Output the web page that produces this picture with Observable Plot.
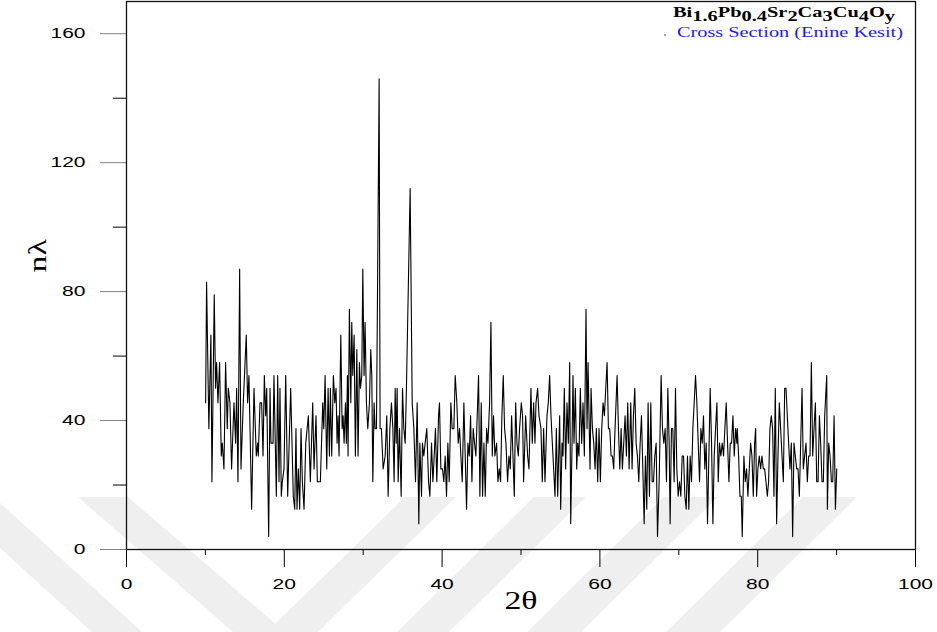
<!DOCTYPE html>
<html>
<head>
<meta charset="utf-8">
<script src="https://cdn.jsdelivr.net/npm/d3@7"></script>
<script src="https://cdn.jsdelivr.net/npm/@observablehq/plot@0.6"></script>
<style>
  html, body { margin: 0; padding: 0; background: #fff; }
  #wrap { position: relative; width: 937px; height: 632px; overflow: hidden; }
  #bg { position: absolute; left: 0; top: 0; }
  #chart { position: absolute; left: 0; top: 0; }
  #legend { position: absolute; left: 0; top: 0; font-family: "Liberation Serif", "Times New Roman", serif; font-size: 14px; white-space: nowrap; }
  #legend .row { position: absolute; transform-origin: 0 0; }
  #t1 { left: 673px; top: 5px; font-weight: bold; color: #000; }
  #t1 .s { display: inline-block; transform: translateY(4px); }
  #t2 { left: 677px; top: 25px; color: #1a1aff; }
  #dot { position: absolute; left: 664px; top: 34px; width: 2px; height: 2px; background: #aaa; }
</style>
</head>
<body>
<div id="wrap">
<svg id="bg" width="937" height="632">
  <g fill="#efefef">
    <polygon points="0,503 0,548 92,632 142,632"/>
    <polygon points="78,497 128,497 285,632 233,632"/>
    <polygon points="405,497 456,497 318,632 267,632"/>
    <polygon points="534,497 586,497 449,632 397,632"/>
    <polygon points="664,497 718,497 581,632 527,632"/>
    <polygon points="803,497 857,497 720,632 666,632"/>
  </g>
</svg>
<div id="chart"></div>
<div id="legend">
  <div class="row" id="t1">Bi<span class="s">1.6</span>Pb<span class="s">0.4</span>Sr<span class="s">2</span>Ca<span class="s">3</span>Cu<span class="s">4</span>O<span class="s">y</span></div>
  <div id="dot"></div>
  <div class="row" id="t2">Cross Section (Enine Kesit)</div>
</div>
</div>
<script>
// 2θ positions (degrees) and intensities
const twoTheta = [
 10.03,10.15,10.44,10.70,10.83,11.12,11.29,11.42,11.59,11.80,12.01,12.14,12.35,12.56,12.77,12.90,13.11,13.32,13.62,13.83,13.96,14.13,14.34,14.51,14.80,15.18,15.35,15.52,15.86,16.16,16.45,16.62,16.70,16.92,17.13,17.30,17.47,17.64,17.77,18.02,18.19,18.31,18.57,18.69,18.99,19.16,19.33,19.45,19.62,19.75,19.96,20.18,20.43,20.81,21.14,21.32,21.48,21.61,21.78,21.95,22.12,22.29,22.50,22.72,
 23.05,23.30,23.60,23.77,24.02,24.19,24.57,24.87,25.00,25.17,25.38,25.55,25.72,25.84,26.01,26.22,26.40,26.56,26.69,26.82,26.94,27.16,27.33,27.45,27.58,27.75,27.87,28.00,28.08,28.25,28.43,28.55,28.68,28.85,29.01,29.19,29.35,29.52,29.65,29.82,29.95,30.11,30.24,30.41,30.58,30.79,30.96,31.09,31.22,31.38,31.51,31.68,32.02,32.14,32.31,32.53,32.78,32.99,33.16,33.38,33.58,33.76,33.92,34.05,34.18,34.30,34.43,34.60,34.81,34.98,35.15,35.32,35.48,35.95,36.21,36.42,36.63,
 36.84,37.05,37.18,37.39,37.51,37.68,37.85,38.06,38.28,38.45,38.66,38.83,39.00,39.16,39.33,39.55,39.67,39.84,40.05,40.22,40.39,40.56,40.73,40.90,41.11,41.28,41.49,41.66,41.87,42.04,42.21,42.38,42.55,42.76,42.93,43.10,43.27,43.44,43.61,43.78,43.94,44.11,44.28,44.45,44.62,44.79,44.96,45.13,45.30,45.47,45.64,45.81,46.02,46.19,46.36,46.52,46.69,46.91,47.07,47.24,47.41,47.58,47.75,47.92,48.09,48.30,48.47,48.64,48.81,48.98,49.15,49.32,49.49,49.66,49.82,50.04,50.20,
 50.33,50.59,50.84,51.01,51.26,51.43,51.60,51.77,51.90,52.11,52.28,52.53,52.70,52.87,53.04,53.29,53.46,53.63,53.80,53.97,54.14,54.31,54.48,54.65,54.90,55.03,55.20,55.32,55.49,55.66,55.83,56.00,56.17,56.30,56.47,56.59,56.72,56.89,57.06,57.19,57.35,57.52,57.69,57.86,58.03,58.24,58.37,58.50,58.62,58.75,58.88,59.05,59.22,59.39,59.55,59.72,59.89,60.06,60.23,60.40,60.57,60.74,60.91,61.08,61.25,61.42,61.59,61.75,61.92,62.18,62.35,62.52,62.69,62.85,63.02,63.19,63.36,63.53,63.70,
 63.91,64.08,64.25,64.42,64.59,64.76,64.93,65.10,65.27,65.44,65.61,65.77,65.94,66.11,66.28,66.45,66.62,66.79,66.96,67.13,67.30,67.51,67.76,67.93,68.10,68.27,68.44,68.61,68.78,68.90,69.07,69.24,69.41,69.58,69.75,69.92,70.09,70.26,70.43,70.60,70.77,70.94,71.10,71.27,71.44,71.61,71.78,71.95,72.12,72.29,72.46,72.63,72.80,72.97,73.13,73.30,73.47,73.64,73.81,73.98,74.15,74.32,74.49,74.66,74.83,75.00,75.16,75.33,75.50,75.67,75.84,76.01,76.18,76.35,76.52,76.69,76.86,77.03,77.20,77.36,
 77.41,77.58,77.75,77.92,78.04,78.25,78.42,78.59,78.76,78.93,79.10,79.27,79.44,79.61,79.74,79.86,80.03,80.20,80.37,80.54,80.71,80.88,81.05,81.22,81.38,81.55,81.72,81.89,82.06,82.23,82.40,82.57,82.74,82.91,83.08,83.25,83.42,83.59,83.75,83.92,84.09,84.26,84.43,84.60,84.77,84.94,85.11,85.28,85.45,85.62,85.78,85.95,86.12,86.29,86.46,86.63,86.80,86.97,87.14,87.31,87.48,87.65,87.82,87.98,88.15,88.32,88.49,88.75,88.83,89.00,89.17,89.34,89.51,89.68,89.85,90.02
];
const intensity = [
 45.5,83,37.5,66.5,21,79,50,58,45.5,58,29,33,25,58,37.5,50,45.5,25,45.5,33,50,21,87,25,45.5,66.5,45.5,54,12.5,50,29,33,29,45.5,45.5,29,54,41.5,50,4,50,33,33,54,16.5,54,21,50,16.5,21,25,54,16.5,50,16.5,12.5,37.5,12.5,25,12.5,37.5,21,12.5,33,
 41.5,21,45.5,25,41.5,21,21,45.5,37.5,54,25,50,29,50,29,54,45.5,50,33,41.5,29,66.5,37.5,41.5,33,45.5,33,54,29,74.5,45.5,70.5,54,66.5,29,62,29,58,50,54,87,54,70.5,45.5,37.5,45.5,62,54,21,45.5,37.5,37.5,146,37.5,37.5,25,29,41.5,16.5,37.5,45.5,37.5,21,50,33,50,21,37.5,16.5,50,37.5,33,50,112,45.5,37.5,21,
 45.5,8,33,16.5,33,29,33,37.5,21,16.5,33,21,29,37.5,21,41.5,45.5,25,25,21,29,16.5,33,21,45.5,37.5,37.5,54,45.5,33,37.5,29,21,45.5,29,12.5,33,29,41.5,21,37.5,33,29,41.5,54,16.5,45.5,16.5,33,16.5,37.5,33,45.5,70.5,29,41.5,29,33,21,25,21,41.5,54,37.5,33,21,29,25,41.5,29,16.5,45.5,33,29,37.5,45.5,41.5,
 21,41.5,29,25,50,33,45.5,33,45.5,50,41.5,37.5,21,37.5,21,41.5,45.5,54,41.5,33,25,16.5,37.5,16.5,41.5,12.5,33,29,50,25,45.5,33,58,8,33,54,33,50,25,33,29,50,33,45.5,29,74.5,37.5,58,41.5,25,50,37.5,33,25,37.5,21,37.5,21,37.5,45.5,41.5,50,58,37.5,37.5,29,29,25,37.5,54,37.5,25,37.5,25,33,41.5,29,45.5,25,
 45.5,25,41.5,50,33,29,21,33,41.5,25,8,29,12.5,45.5,16.5,45.5,21,21,29,33,4,21,54,37.5,33,37.5,21,50,33,8,37.5,37.5,21,50,25,16.5,21,16.5,29,29,16.5,12.5,29,12.5,29,21,37.5,45.5,54,45.5,33,21,37.5,33,41.5,25,33,8,29,50,33,8,29,37.5,45.5,21,33,29,33,29,37.5,45.5,33,21,33,33,41.5,29,37.5,33,
 37.5,29,16.5,16.5,4,29,21,25,16.5,25,33,29,16.5,33,37.5,16.5,25,29,25,29,25,25,21,16.5,21,37.5,41.5,37.5,16.5,50,8,29,45.5,37.5,29,21,50,50,41.5,33,25,33,4,33,29,25,25,16.5,33,50,25,29,33,21,29,29,58,29,37.5,45.5,21,21,41.5,33,21,21,41.5,54,12.5,33,29,21,21,41.5,12.5,25
];
const xMajor = [0, 20, 40, 60, 80, 100];
const xMinor = [10, 30, 50, 70, 90];
const yMajor = [0, 40, 80, 120, 160];
const yMinor = [20, 60, 100, 140];

const data = twoTheta.map((t, i) => ({t, v: intensity[i]}));
const serif = "'Liberation Serif', 'Times New Roman', serif";

const chart = Plot.plot({
  width: 937,
  height: 632,
  marginLeft: 126,
  marginRight: 22,
  marginTop: 1,
  marginBottom: 83,
  x: {domain: [0, 100]},
  y: {domain: [0, 170]},
  style: {fontFamily: "'Liberation Sans', Arial, sans-serif", fontSize: "14px", color: "#000", background: "transparent"},
  marks: [
    Plot.axisY({ticks: yMajor, tickSize: 26, tickPadding: 15, label: null, stroke: "#808080", fill: "#000"}),
    Plot.axisY({ticks: yMinor, tickSize: 13, tickFormat: () => "", label: null, stroke: "#000"}),
    Plot.axisX({ticks: xMajor, tickSize: 18, tickPadding: 12, label: null, stroke: "#000"}),
    Plot.axisX({ticks: xMinor, tickSize: 6, tickFormat: () => "", label: null, stroke: "#000"}),
    Plot.frame({stroke: "#111", strokeWidth: 1.3}),
    Plot.line(data, {x: "t", y: "v", stroke: "#000", strokeWidth: 1.1}),
    Plot.text(["nλ"], {frameAnchor: "left", dx: -89, dy: -3, rotate: -90, fontFamily: serif, fontSize: 26, fill: "#000"}),
    Plot.text(["2θ"], {frameAnchor: "bottom", dy: 59, fontFamily: serif, fontSize: 26, fill: "#000"})
  ]
});
document.getElementById("chart").appendChild(chart);

// widen glyphs along the baseline, as in the reference (textLength keeps anchors)
chart.querySelectorAll("text").forEach(el => {
  const s = (el.textContent || "").trim();
  let k = 0;
  if (/^\d+$/.test(s)) k = 1.5;
  else if (s === "2θ" || s === "nλ") k = 1.3;
  if (!k) return;
  const len = el.getComputedTextLength();
  if (len > 0) {
    el.setAttribute("textLength", (len * k).toFixed(1));
    el.setAttribute("lengthAdjust", "spacingAndGlyphs");
  }
});

// fit the legend rows to the reference widths
function fit(id, w) {
  const el = document.getElementById(id);
  const cw = el.getBoundingClientRect().width;
  el.style.transform = `scaleX(${w / cw})`;
}
fit("t1", 222);
fit("t2", 226);
</script>
</body>
</html>
